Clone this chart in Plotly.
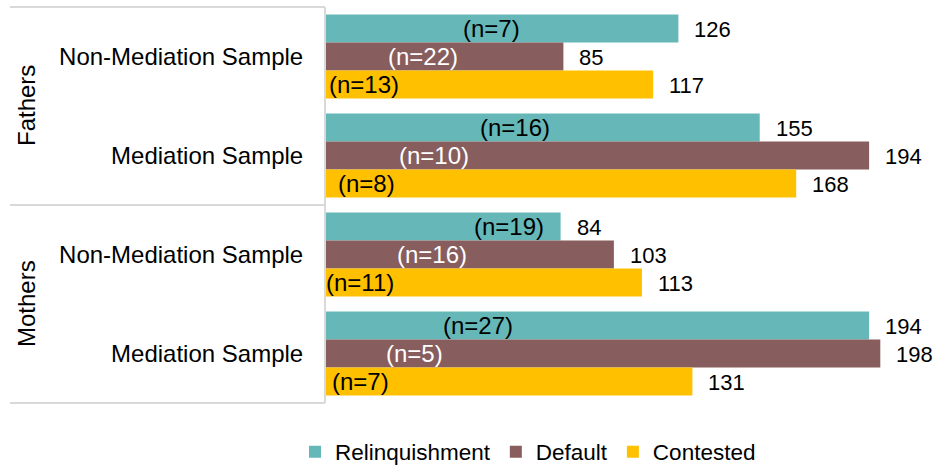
import plotly.graph_objects as go

# ---- data ----
groups = ["Fathers", "Fathers", "Mothers", "Mothers"]
samples = ["Non-Mediation Sample", "Mediation Sample", "Non-Mediation Sample", "Mediation Sample"]
series_names = ["Relinquishment", "Default", "Contested"]
relinquishment = [126, 155, 84, 194]
default = [85, 194, 103, 198]
contested = [117, 168, 113, 131]
n_relinquishment = [7, 16, 19, 27]
n_default = [22, 10, 16, 5]
n_contested = [13, 8, 11, 7]

# ---- styles / label placement (not data) ----
colors = ["#66b7b7", "#875e5d", "#ffc000"]
n_label_colors = ["#000000", "#ffffff", "#000000"]
n_label_x = [[59.2, 67.6, 65.7, 54.6], [35, 38.9, 38, 32], [14, 14.8, 12.5, 12.8]]
FONT = "Liberation Sans, Arial, sans-serif"
FS_TICK = 24
FS_VAL = 22
FS_N = 24
FS_LEG = 22.5

cats = [g + " | " + s for g, s in zip(groups, samples)]
values = [relinquishment, default, contested]
ns = [n_relinquishment, n_default, n_contested]

fig = go.Figure()
for name, vals, col in zip(series_names, values, colors):
    fig.add_trace(go.Bar(
        y=cats, x=vals, name=name, orientation="h",
        marker=dict(color=col, line=dict(width=0)),
    ))

annotations = []
offsets = [-1, 0, 1]  # trace index within group
for ti, (vals, nn) in enumerate(zip(values, ns)):
    for ci, cat in enumerate(cats):
        annotations.append(dict(
            x=vals[ci], y=cat, yref="y", xref="x", text=str(vals[ci]),
            showarrow=False, xanchor="left", xshift=14,
            yshift=-offsets[ti] * 28 - 1,
            font=dict(family=FONT, size=FS_VAL, color="#000000"),
        ))
        annotations.append(dict(
            x=n_label_x[ti][ci], y=cat, yref="y", xref="x", text="(n=%d)" % nn[ci],
            showarrow=False, xanchor="center",
            yshift=-offsets[ti] * 28,
            font=dict(family=FONT, size=FS_N, color=n_label_colors[ti]),
        ))

plot_l, plot_w = 325, 603
def px_to_paper_x(px):
    return (px - plot_l) / plot_w
for g, yc in [("Fathers", 0.75), ("Mothers", 0.25)]:
    annotations.append(dict(
        x=px_to_paper_x(26), y=yc, xref="paper", yref="paper", text=g,
        showarrow=False, textangle=-90, xanchor="center", yanchor="middle",
        font=dict(family=FONT, size=FS_TICK, color="#000000"),
    ))

shapes = []
for yy in [0, 0.5, 1]:
    shapes.append(dict(type="line", xref="paper", yref="paper",
                       x0=px_to_paper_x(10), x1=0, y0=yy, y1=yy,
                       line=dict(color="#d9d9d9", width=2)))
shapes.append(dict(type="line", xref="paper", yref="paper",
                   x0=0, x1=0, y0=0, y1=1,
                   line=dict(color="#d9d9d9", width=2)))

fig.update_layout(
    width=938, height=468,
    margin=dict(l=plot_l, r=938 - plot_l - plot_w, t=7, b=65, autoexpand=False),
    paper_bgcolor="white", plot_bgcolor="white",
    barmode="group", bargap=0.15, bargroupgap=0,
    font=dict(family=FONT, size=FS_TICK, color="#000000"),
    xaxis=dict(range=[0, 215], visible=False, showgrid=False, zeroline=False),
    yaxis=dict(
        type="category", categoryorder="array", categoryarray=cats,
        autorange="reversed", tickvals=cats, ticktext=samples,
        ticks="outside", ticklen=16, tickcolor="rgba(0,0,0,0)",
        showgrid=False, zeroline=False, showline=False,
        tickfont=dict(family=FONT, size=FS_TICK, color="#000000"),
    ),
    legend=dict(orientation="h", xref="container", x=528 / 938, xanchor="center",
                yref="container", y=(468 - 452) / 468, yanchor="middle",
                font=dict(family=FONT, size=FS_LEG, color="#000000"),
                itemwidth=30, traceorder="normal"),
    annotations=annotations, shapes=shapes,
)

fig.write_html(
    "out.html",
    config={"displayModeBar": False},
    post_script="document.body.style.margin='0';document.body.style.padding='0';",
)
